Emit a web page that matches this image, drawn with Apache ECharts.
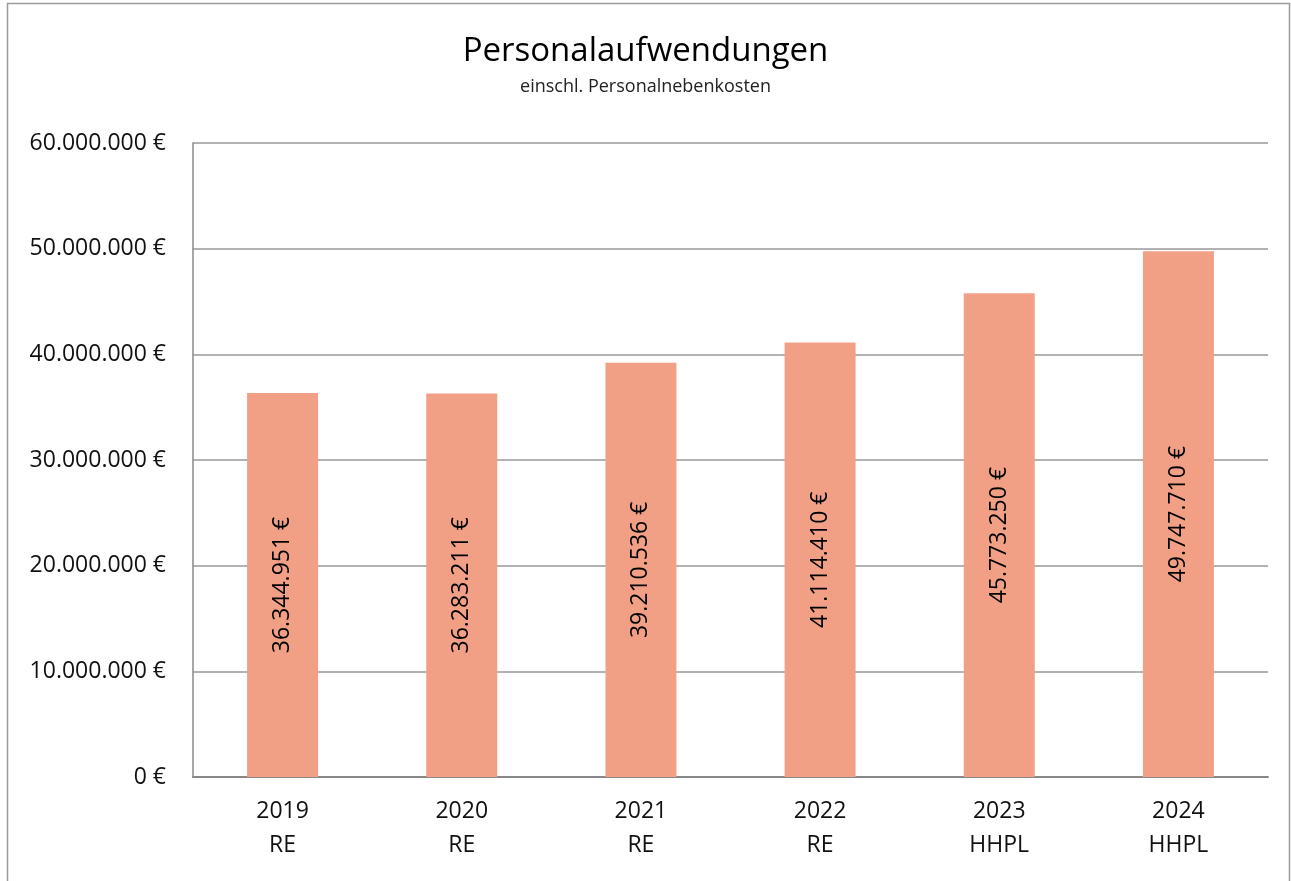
<!DOCTYPE html>
<html><head><meta charset="utf-8">
<script src="https://cdn.jsdelivr.net/npm/echarts@6/dist/echarts.min.js"></script>
<style>html,body{margin:0;padding:0;background:#fff}#c{width:1291px;height:881px}</style>
</head><body><div id="c"></div>
<script>
const categories = ['2019\nRE','2020\nRE','2021\nRE','2022\nRE','2023\nHHPL','2024\nHHPL'];
const values = [36344951, 36283211, 39210536, 41114410, 45773250, 49747710];
const yTicks = {min:0, max:60000000, interval:10000000};
const FONT = '"Open Sans", "Noto Sans", sans-serif';
function fmt(v){ return String(Math.round(v)).replace(/\B(?=(\d{3})+(?!\d))/g,'.') + ' €'; }
const chart = echarts.init(document.getElementById('c'));
chart.setOption({
  animation:false,
  backgroundColor:'#fff',
  graphic:[{type:'rect',shape:{x:7.5,y:3.5,width:1282,height:900},style:{fill:'none',stroke:'#9a9a9a',lineWidth:1.5},silent:true}],
  title:{text:'Personalaufwendungen',subtext:'einschl. Personalnebenkosten',left:'center',top:30,itemGap:10,
    textStyle:{fontFamily:FONT,fontSize:33,fontWeight:'normal',color:'#000'},
    subtextStyle:{fontFamily:FONT,fontSize:18,color:'#222'}},
  grid:{left:193,right:23,top:143,bottom:104,containLabel:false},
  xAxis:{type:'category',data:categories,
    axisLine:{lineStyle:{color:'#888',width:2}},axisTick:{show:false},
    axisLabel:{fontFamily:FONT,fontSize:23,color:'#111',lineHeight:34,margin:17}},
  yAxis:{type:'value',min:yTicks.min,max:yTicks.max,interval:yTicks.interval,
    axisLine:{show:true,lineStyle:{color:'#888',width:1.5}},axisTick:{show:false},
    splitLine:{lineStyle:{color:'#999',width:1.5}},
    axisLabel:{fontFamily:FONT,fontSize:23,color:'#111',margin:27,formatter:fmt}},
  series:[{type:'bar',data:values,barWidth:71,itemStyle:{color:'#F1A085'},
    label:{show:true,position:'inside',rotate:90,fontFamily:FONT,fontSize:23,color:'#000',formatter:p=>fmt(p.value)}}]
});
</script></body></html>
